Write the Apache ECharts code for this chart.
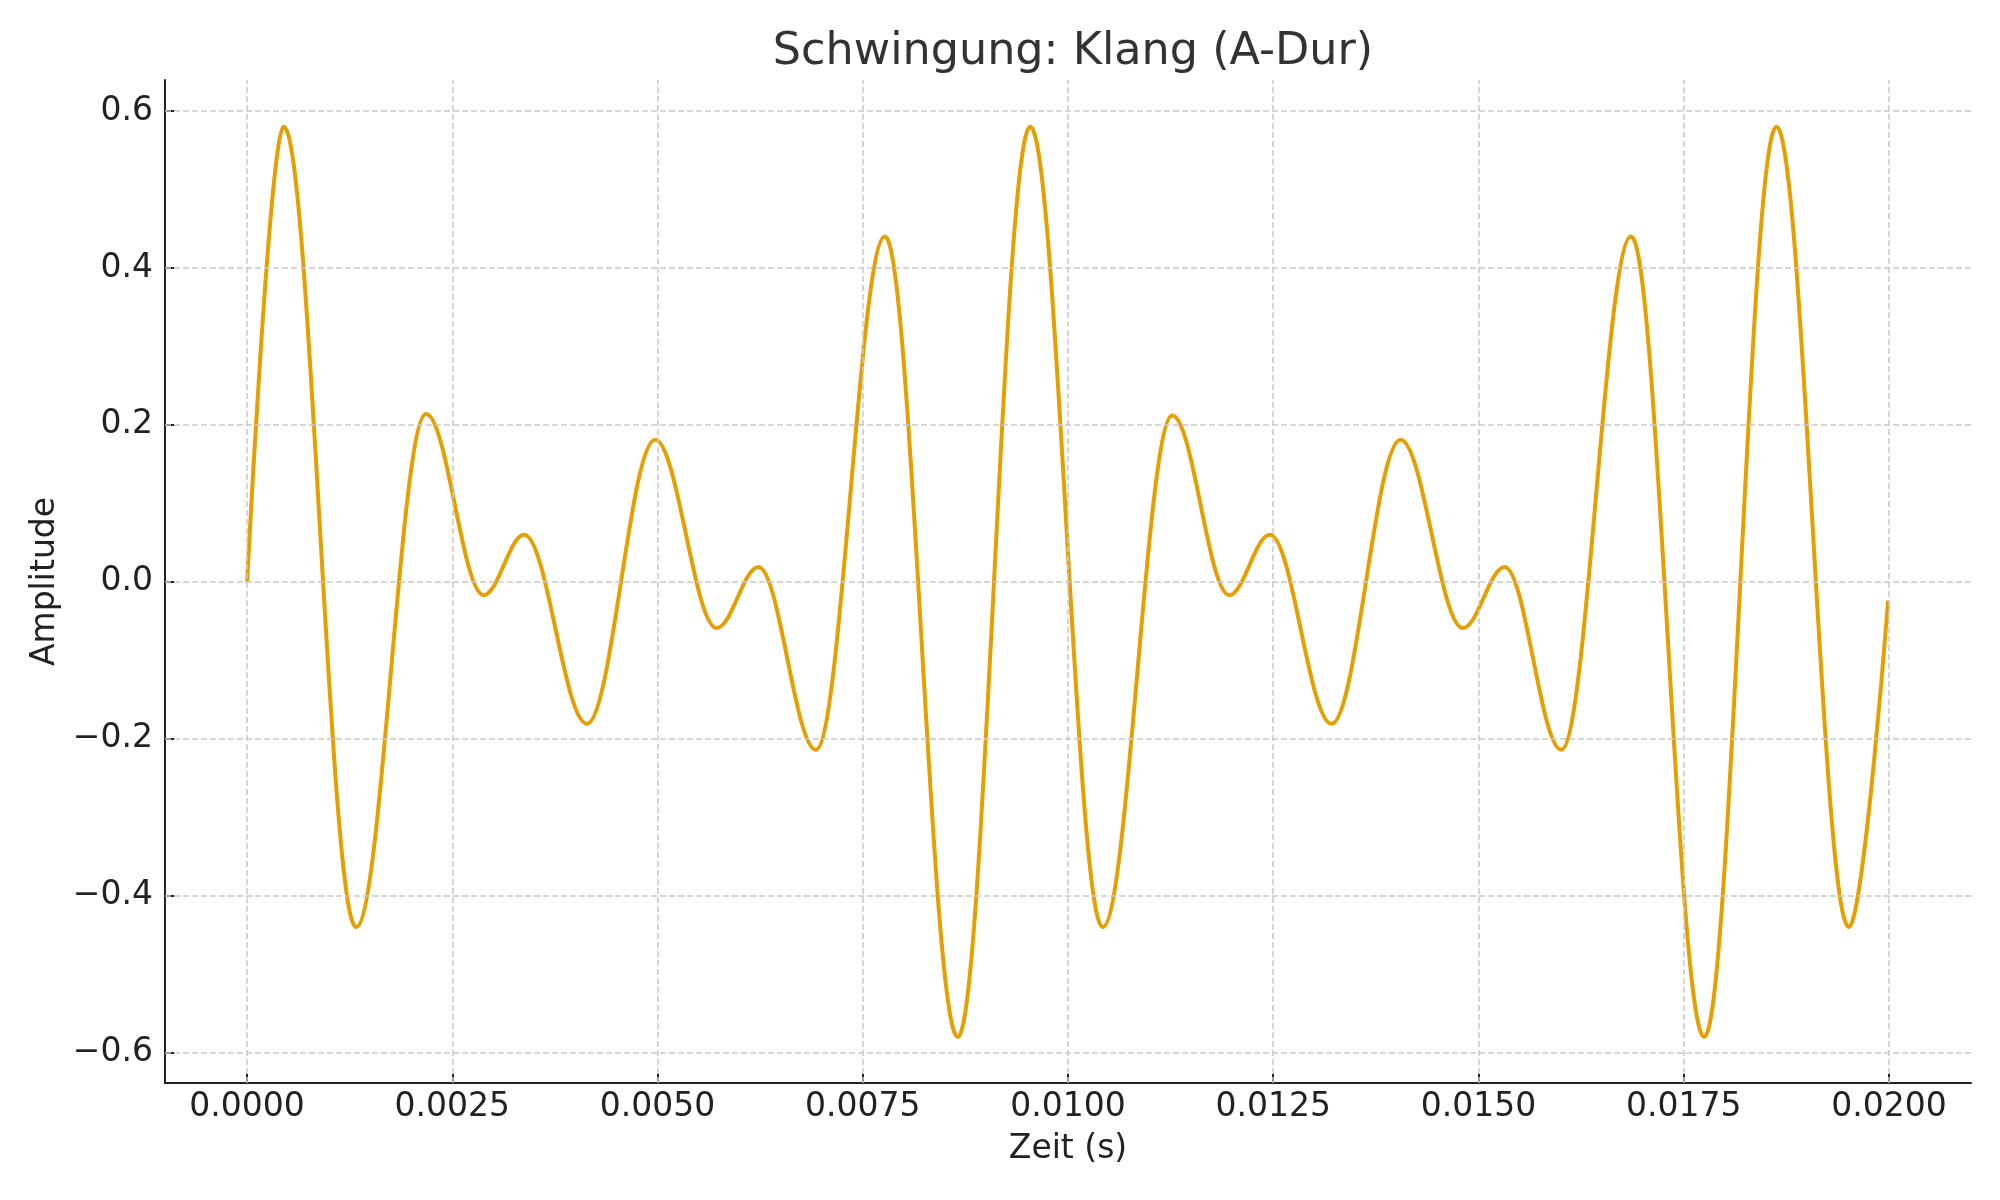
<!DOCTYPE html>
<html>
<head>
<meta charset="utf-8">
<script src="https://cdn.jsdelivr.net/npm/echarts@6/dist/echarts.min.js"></script>
<style>
html,body{margin:0;padding:0;background:#fff;}
#chart{width:2000px;height:1200px;}
</style>
</head>
<body>
<div id="chart"></div>
<script>
// Extrema of the waveform (time in s, amplitude)
const timeValues = [0, 0.000446, 0.001327, 0.00218, 0.00288, 0.003376, 0.00414, 0.00497, 0.00572, 0.00623, 0.00693, 0.00777, 0.008657, 0.00954, 0.010422, 0.01127, 0.011963, 0.01246, 0.01321, 0.01405, 0.01481, 0.01532, 0.01601, 0.01686, 0.01775, 0.01863, 0.019512, 0.01999];
const amplitudeValues = [0, 0.58, -0.44, 0.214, -0.017, 0.06, -0.181, 0.181, -0.059, 0.019, -0.214, 0.44, -0.58, 0.58, -0.44, 0.212, -0.017, 0.06, -0.181, 0.181, -0.059, 0.019, -0.214, 0.44, -0.58, 0.58, -0.44, -0.024];
const xTicks = [0, 0.0025, 0.005, 0.0075, 0.01, 0.0125, 0.015, 0.0175, 0.02];
const yTicks = [-0.6, -0.4, -0.2, 0, 0.2, 0.4, 0.6];

const titleText = 'Schwingung: Klang (A-Dur)';
const xName = 'Zeit (s)';
const yName = 'Amplitude';

const seriesData = timeValues.map((t, i) => [t, amplitudeValues[i]]);
const FONT = '"DejaVu Sans", sans-serif';
const gridStyle = { color: '#c9c9c9', width: 1.5, type: [6, 3] };

const gridLines = [];
xTicks.forEach(v => gridLines.push({ xAxis: v }));
yTicks.forEach(v => gridLines.push({ yAxis: v }));

const chart = echarts.init(document.getElementById('chart'), null, { renderer: 'canvas' });
chart.setOption({
  animation: false,
  backgroundColor: '#ffffff',
  title: {
    text: titleText,
    left: 1068,
    textAlign: 'center',
    top: 25,
    textStyle: { fontFamily: FONT, fontSize: 44.5, fontWeight: 'normal', color: '#333333' }
  },
  grid: { left: 165, right: 29, top: 80, bottom: 117, containLabel: false },
  xAxis: {
    type: 'value',
    min: -0.001,
    max: 0.021,
    name: xName,
    nameLocation: 'middle',
    nameGap: 50,
    nameTextStyle: { fontFamily: FONT, fontSize: 33, color: '#222' },
    axisLine: { show: true, onZero: false, lineStyle: { color: '#222', width: 2 } },
    axisTick: { show: true, inside: true, length: 9, customValues: xTicks, lineStyle: { color: '#222', width: 2 } },
    axisLabel: {
      customValues: xTicks,
      margin: 8,
      fontFamily: FONT, fontSize: 33, color: '#222',
      formatter: v => v.toFixed(4)
    },
    splitLine: { show: false }
  },
  yAxis: {
    type: 'value',
    min: -0.6387,
    max: 0.6395,
    name: yName,
    nameLocation: 'middle',
    nameGap: 102,
    nameRotate: 90,
    nameTextStyle: { fontFamily: FONT, fontSize: 33, color: '#222' },
    axisLine: { show: true, onZero: false, lineStyle: { color: '#222', width: 2 } },
    axisTick: { show: true, inside: true, length: 9, customValues: yTicks, lineStyle: { color: '#222', width: 2 } },
    axisLabel: {
      customValues: yTicks,
      margin: 12,
      fontFamily: FONT, fontSize: 33, color: '#222',
      formatter: v => (v < 0 ? '\u2212' : '') + Math.abs(v).toFixed(1)
    },
    splitLine: { show: false }
  },
  series: [
    {
      type: 'line',
      data: [],
      z: 1,
      silent: true,
      markLine: {
        silent: true,
        precision: 8,
        symbol: ['none', 'none'],
        label: { show: false },
        lineStyle: gridStyle,
        emphasis: { disabled: true },
        animation: false,
        data: gridLines
      }
    },
    {
      type: 'line',
      data: seriesData,
      z: 3,
      showSymbol: false,
      smooth: 0.36,
      smoothMonotone: 'x',
      lineStyle: { color: '#E69F00', width: 4 },
      itemStyle: { color: '#E69F00' }
    }
  ]
});
</script>
</body>
</html>
